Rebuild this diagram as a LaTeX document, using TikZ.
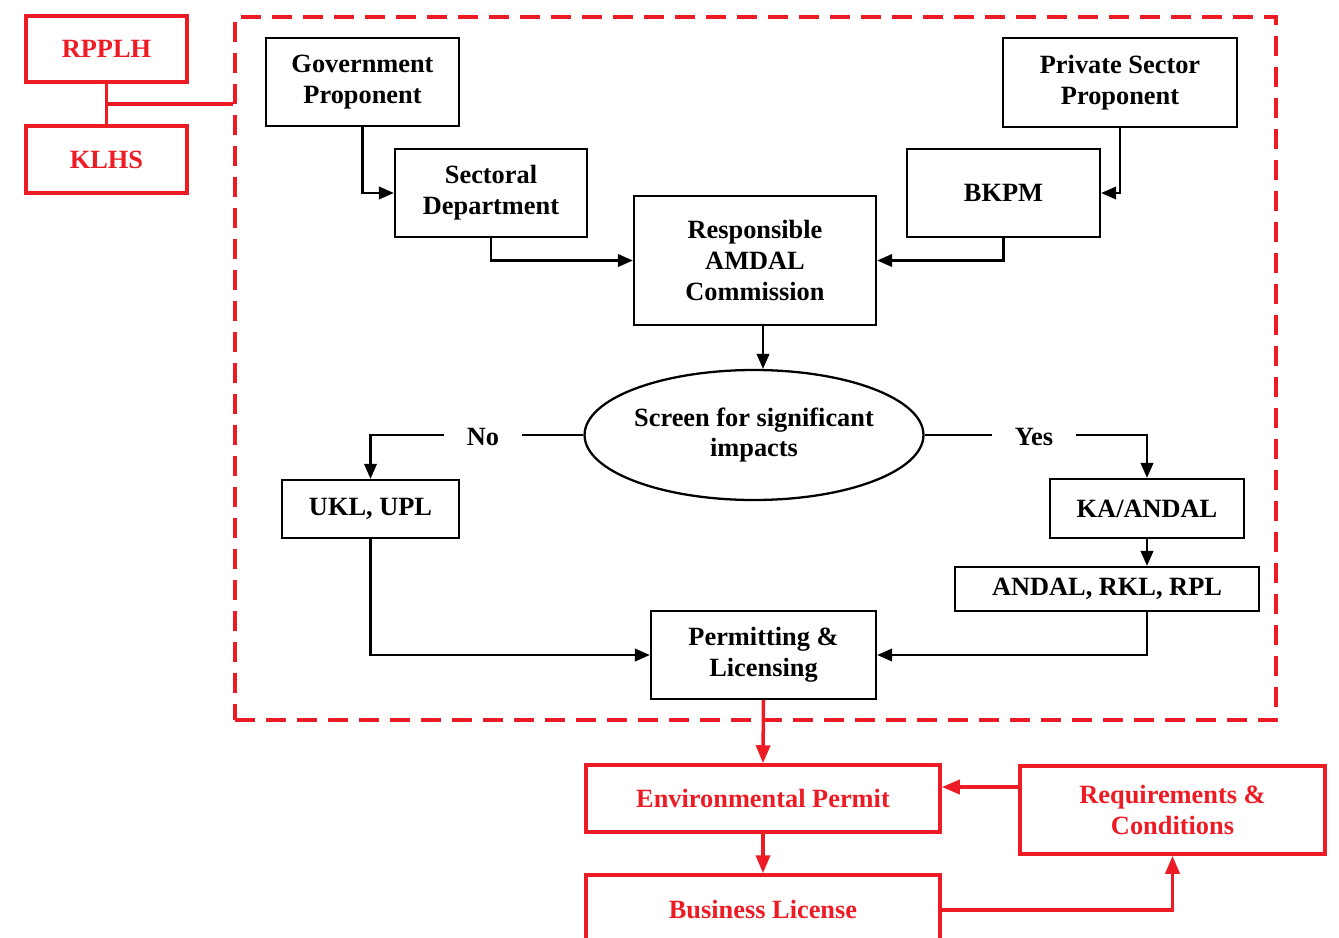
\documentclass[tikz,border=0pt]{standalone}
\usepackage{fontspec}
\setmainfont{Liberation Serif}
\usetikzlibrary{positioning, arrows.meta, shapes.geometric, calc}
\definecolor{permitRed}{HTML}{ED1C24}
\definecolor{flowBlack}{HTML}{000000}

\begin{document}
\begin{tikzpicture}[font=\fontsize{15}{17.6}\selectfont\bfseries,
    box/.style={draw=flowBlack, line width=1.3pt, align=center, inner sep=0pt},
    redbox/.style={draw=permitRed, line width=2pt, align=center, inner sep=0pt, text=permitRed},
    conn/.style={-{Triangle[length=0.3cm, width=0.25cm]}, line width=1.3pt, flowBlack},
    redconn/.style={-{Triangle[length=0.36cm, width=0.28cm]}, line width=2pt, permitRed},
    choice/.style={inner xsep=0.45cm, inner ysep=0pt}]
    \useasboundingbox (0,0) rectangle (26.78,-18.76);

    % oversight bodies and the dashed AMDAL frame
    \node[draw=permitRed, line width=2pt, dash pattern=on 0.4cm off 0.22cm,
          minimum width=20.82cm, minimum height=14.06cm] (frame) at (15.11,-7.37) {};
    \node[redbox, minimum width=3.22cm, minimum height=1.32cm] (rpplh) at (2.13,-0.98) {RPPLH};
    \node[redbox, minimum width=3.22cm, minimum height=1.34cm] (klhs) at (2.13,-3.19) {KLHS};
    \coordinate (jn) at ($(rpplh.south)!0.5!(klhs.north)$);

    % proponents
    \node[box, minimum width=3.86cm, minimum height=1.76cm] (gov) at (7.25,-1.64) {Government\\Proponent};
    \node[box, minimum width=3.84cm, minimum height=1.76cm] (sect) at (9.82,-3.86) {Sectoral\\Department};
    \node[box, minimum width=4.68cm, minimum height=1.78cm] (priv) at (22.40,-1.65) {Private Sector\\Proponent};
    \node[box, minimum width=3.86cm, minimum height=1.76cm] (bkpm) at (20.07,-3.86) {BKPM};
    \node[box, minimum width=4.84cm, minimum height=2.58cm] (comm) at (15.10,-5.21) {Responsible\\AMDAL\\Commission};

    % screening
    \node[ellipse, draw=flowBlack, line width=1.3pt, align=center, inner sep=0pt,
          minimum width=6.76cm, minimum height=2.60cm] (screen) at (15.08,-8.70) {Screen for significant\\impacts};
    \node[choice] (no) at (9.66,-8.74) {No};
    \node[choice] (yes) at (20.68,-8.74) {Yes};
    \node[box, minimum width=3.54cm, minimum height=1.16cm] (ukl) at (7.41,-10.18) {UKL, UPL};
    \node[box, minimum width=3.88cm, minimum height=1.18cm] (ka) at (22.94,-10.17) {KA/ANDAL};
    \node[box, minimum width=6.08cm, minimum height=0.88cm] (andal) at (22.14,-11.78) {ANDAL, RKL, RPL};
    \node[box, minimum width=4.50cm, minimum height=1.76cm] (perm) at (15.27,-13.10) {Permitting \&\\Licensing};

    % permits
    \node[redbox, minimum width=7.08cm, minimum height=1.34cm] (env) at (15.26,-15.97) {Environmental Permit};
    \node[redbox, minimum width=6.10cm, minimum height=1.76cm] (req) at (23.45,-16.20) {Requirements \&\\Conditions};
    \node[redbox, minimum width=7.08cm, minimum height=1.40cm] (bus) at (15.26,-18.20) {Business License};

    \draw[line width=2pt, permitRed] (rpplh.south) -- (klhs.north);
    \draw[line width=2pt, permitRed] (jn) -- (jn -| frame.west);

    \draw[conn] (gov.south) |- (sect.west);
    \draw[conn] (priv.south) |- (bkpm.east);
    \draw[conn] (sect.south) |- (comm.west);
    \draw[conn] (bkpm.south) |- (comm.east);
    \draw[conn] ([xshift=0.16cm]comm.south) -- ([xshift=0.16cm]comm.south |- screen.north);
    \draw[line width=1.3pt] (screen.west) -- (screen.west -| no.east);
    \draw[conn] (no.west |- screen.west) -| (ukl.north);
    \draw[line width=1.3pt] (screen.east) -- (screen.east -| yes.west);
    \draw[conn] (yes.east |- screen.east) -| (ka.north);
    \draw[conn] (ka.south) -- (ka.south |- andal.north);
    \draw[conn] (ka.south |- andal.south) |- (perm.east);
    \draw[conn] (ukl.south) |- (perm.west);

    \draw[redconn] (perm.south) -- (env.north);
    \draw[redconn] (env.south) -- (bus.north);
    \draw[redconn] ([yshift=0.46cm]req.west) -- ([yshift=0.46cm]req.west -| env.east);
    \draw[redconn] (bus.east) -| (req.south);
\end{tikzpicture}
\end{document}
